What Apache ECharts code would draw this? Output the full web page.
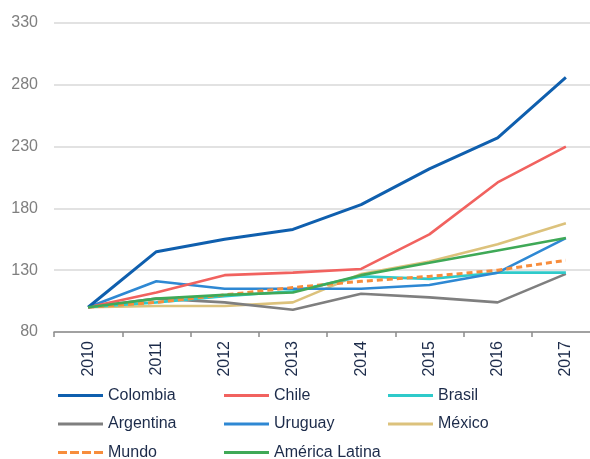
<!DOCTYPE html>
<html>
<head>
<meta charset="utf-8">
<script src="https://cdn.jsdelivr.net/npm/echarts@6/dist/echarts.min.js"></script>
<style>
  html, body { margin: 0; padding: 0; background: #fff; overflow: hidden; }
  #chart { width: 600px; height: 459px; }
</style>
</head>
<body>
<div id="chart"></div>
<script>
// años
const years = ['2010', '2011', '2012', '2013', '2014', '2015', '2016', '2017'];

// índices (2010 = 100)
const colombia = [100, 145, 155, 163, 183, 212, 237, 286];
const chile = [100, 112, 126, 128, 131, 159, 201, 230];
const brasil = [100, 104, 109, 113, 125, 123, 128, 128];
const argentina = [100, 107, 104, 98, 111, 108, 104, 127];
const uruguay = [100, 121, 115, 115, 115, 118, 128, 156];
const mexico = [100, 101, 101, 104, 127, 137, 151, 168];
const mundo = [100, 104, 110, 116, 121, 125, 130, 138];
const americaLatina = [100, 107, 110, 112, 126, 136, 146, 156];

const colores = {
  Colombia: '#0f5fae',
  Chile: '#f1625f',
  Brasil: '#2fcaca',
  Argentina: '#7f7f7f',
  Uruguay: '#2e88d3',
  'México': '#dcc27c',
  Mundo: '#f78d3c',
  'América Latina': '#3fa957'
};

// iconos de la leyenda: línea continua y discontinua
const iconLinea = 'path://M0,0h45v3h-45z';
const iconGuiones = 'path://M0,0h9v3h-9zM12,0h9v3h-9zM24,0h9v3h-9zM36,0h9v3h-9z';

const serie = (name, data, extra) => Object.assign({
  name: name,
  type: 'line',
  data: data,
  symbol: 'none',
  color: colores[name],
  lineStyle: { width: 2.6, color: colores[name] }
}, extra || {});

const item = (name) => ({ name: name, icon: name === 'Mundo' ? iconGuiones : iconLinea });

const legendBase = {
  orient: 'vertical',
  top: 386.5,
  height: 90,
  padding: 0,
  itemWidth: 45,
  itemHeight: 3,
  itemGap: 10.5,
  textStyle: { fontFamily: 'Liberation Sans, Arial', fontSize: 16, lineHeight: 18, color: '#1c2b4a' }
};

const chart = echarts.init(document.getElementById('chart'));
chart.setOption({
  animation: false,
  // el área del gráfico sigue más allá del borde derecho de la imagen
  grid: { left: 54, right: 0, top: 23, bottom: 127, containLabel: false },
  legend: [
    Object.assign({}, legendBase, { left: 58, data: ['Colombia', 'Argentina', 'Mundo'].map(item) }),
    Object.assign({}, legendBase, { left: 224, data: ['Chile', 'Uruguay', 'América Latina'].map(item) }),
    Object.assign({}, legendBase, { left: 388, data: ['Brasil', 'México'].map(item) })
  ],
  xAxis: {
    type: 'category',
    data: years,
    boundaryGap: true,
    axisLine: { lineStyle: { color: '#8c8c8c', width: 1.5 } },
    axisTick: { show: true, length: 5, lineStyle: { color: '#8c8c8c', width: 1.5 } },
    axisLabel: {
      rotate: 90,
      margin: 9,
      fontFamily: 'Liberation Sans, Arial',
      fontSize: 16,
      color: '#1c2b4a'
    }
  },
  yAxis: {
    type: 'value',
    min: 80,
    max: 330,
    interval: 50,
    axisLine: { show: false },
    axisTick: { show: false },
    splitLine: { lineStyle: { color: '#d9d9d9', width: 1.5 } },
    axisLabel: {
      margin: 16,
      fontFamily: 'Liberation Sans, Arial',
      fontSize: 16,
      color: '#7f7f7f'
    }
  },
  series: [
    serie('México', mexico),
    serie('Argentina', argentina),
    serie('Brasil', brasil),
    serie('Uruguay', uruguay),
    serie('Mundo', mundo, { lineStyle: { width: 3, color: colores.Mundo, type: [6, 4] }, z: 3 }),
    serie('América Latina', americaLatina, { z: 4 }),
    serie('Chile', chile),
    serie('Colombia', colombia, { lineStyle: { width: 3, color: colores.Colombia } })
  ]
});
</script>
</body>
</html>
